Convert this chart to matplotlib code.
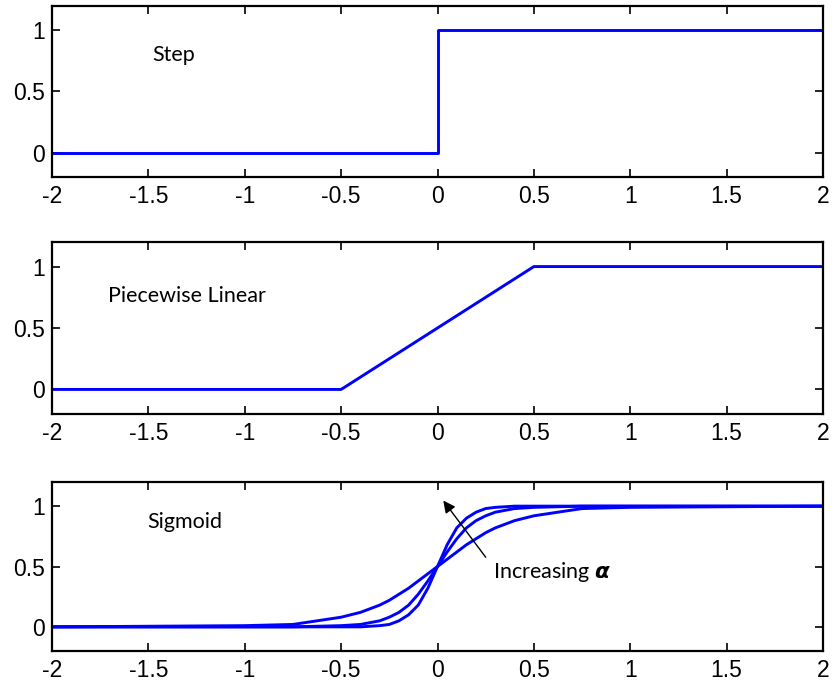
import matplotlib.pyplot as plt

# step and piecewise linear breakpoints
step_x = [-2, 0, 0, 2]
step_y = [0, 0, 1, 1]
pwl_x = [-2, -0.5, 0.5, 2]
pwl_y = [0, 0, 1, 1]

# sigmoid curves (shallow -> steep)
sig_x = [-2, -1, -0.75, -0.5, -0.4, -0.3, -0.25, -0.2, -0.15, -0.1, -0.05, 0,
         0.05, 0.1, 0.15, 0.2, 0.25, 0.3, 0.4, 0.5, 0.75, 1, 2]
sig_shallow = [0.0, 0.01, 0.02, 0.08, 0.12, 0.18, 0.22, 0.27, 0.32, 0.38, 0.44, 0.5,
               0.56, 0.62, 0.68, 0.73, 0.78, 0.82, 0.88, 0.92, 0.98, 0.99, 1.0]
sig_mid = [0.0, 0.0, 0.0, 0.01, 0.02, 0.05, 0.08, 0.12, 0.18, 0.27, 0.38, 0.5,
           0.62, 0.73, 0.82, 0.88, 0.92, 0.95, 0.98, 0.99, 1.0, 1.0, 1.0]
sig_steep = [0.0, 0.0, 0.0, 0.0, 0.0, 0.01, 0.02, 0.05, 0.1, 0.18, 0.32, 0.5,
             0.68, 0.82, 0.9, 0.95, 0.98, 0.99, 1.0, 1.0, 1.0, 1.0, 1.0]

x_ticks = [-2, -1.5, -1, -0.5, 0, 0.5, 1, 1.5, 2]
x_ticklabels = ["-2", "-1.5", "-1", "-0.5", "0", "0.5", "1", "1.5", "2"]
y_ticks = [0, 0.5, 1]
y_ticklabels = ["0", "0.5", "1"]

BLUE = "#0000ff"
W, H = 833, 685
TICK_FONT = "Liberation Sans"
NOTE_FONT = "Lato"
NOTE_SIZE = 15.5

fig = plt.figure(figsize=(W / 100, H / 100), dpi=100)

# axes boxes in pixels: (top, bottom)
rows = [(6, 177), (242, 414), (482, 651)]
left, right = 52, 823
axes = []
for top, bottom in rows:
    ax = fig.add_axes([left / W, 1 - bottom / H, (right - left) / W, (bottom - top) / H])
    ax.set_xlim(-2, 2)
    ax.set_ylim(-0.2, 1.2)
    ax.set_xticks(x_ticks)
    ax.set_xticklabels(x_ticklabels)
    ax.set_yticks(y_ticks)
    ax.set_yticklabels(y_ticklabels)
    ax.tick_params(direction="in", top=True, right=True, length=6, width=1.2,
                   labelsize=16.5)
    ax.tick_params(axis="x", pad=6)
    ax.tick_params(axis="y", pad=5)
    for lab in ax.get_xticklabels() + ax.get_yticklabels():
        lab.set_fontfamily(TICK_FONT)
    for sp in ax.spines.values():
        sp.set_linewidth(1.6)
    axes.append(ax)

ax1, ax2, ax3 = axes

ax1.plot(step_x, step_y, color=BLUE, lw=2.1)
ax1.text(-1.478, 0.75, "Step", fontsize=NOTE_SIZE, family=NOTE_FONT, va="baseline")

ax2.plot(pwl_x, pwl_y, color=BLUE, lw=2.1)
ax2.text(-1.711, 0.714, "Piecewise Linear", fontsize=NOTE_SIZE, family=NOTE_FONT,
         va="baseline")

for ys in (sig_shallow, sig_mid, sig_steep):
    ax3.plot(sig_x, ys, color=BLUE, lw=2.1)
ax3.text(-1.504, 0.817, "Sigmoid", fontsize=NOTE_SIZE, family=NOTE_FONT, va="baseline")
ax3.annotate("", xy=(0.03, 1.046), xytext=(0.25, 0.577),
             arrowprops=dict(arrowstyle="-|>", color="black", lw=1.0,
                             mutation_scale=18, shrinkA=0, shrinkB=0))
ax3.text(0.286, 0.408, r"Increasing $\boldsymbol{\alpha}$", fontsize=NOTE_SIZE,
         family=NOTE_FONT, va="baseline")

fig.savefig("out.png", dpi=100)
